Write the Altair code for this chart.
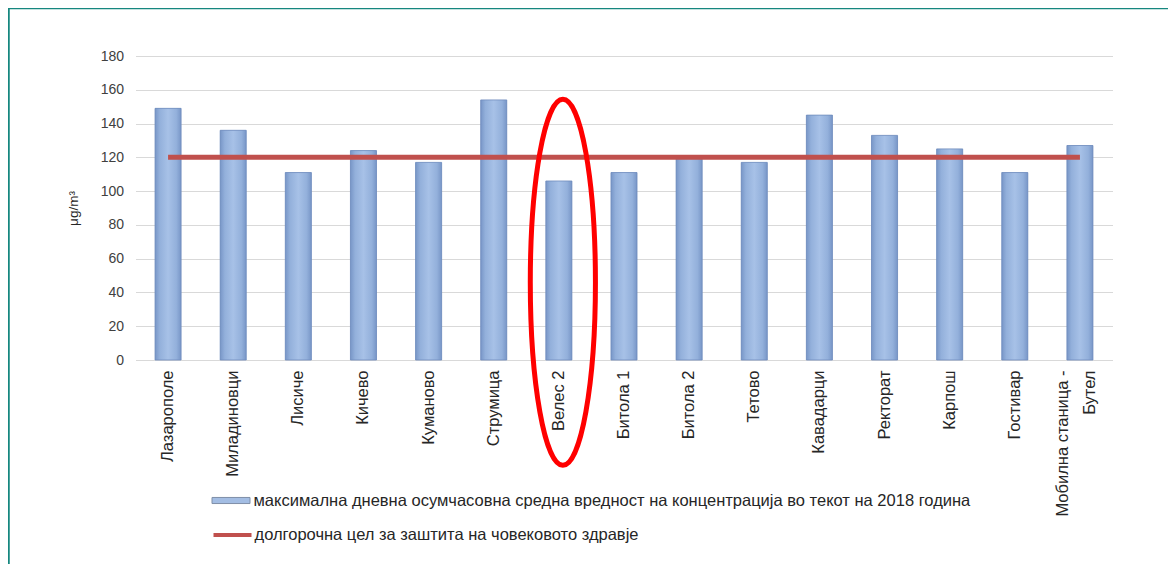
import altair as alt
import pandas as pd

stations = ["Лазарополе", "Миладиновци", "Лисиче", "Кичево", "Куманово", "Струмица",
            "Велес 2", "Битола 1", "Битола 2", "Тетово", "Кавадарци", "Ректорат",
            "Карпош", "Гостивар", "Мобилна станица - Бутел"]
max_8h = [149, 136, 111, 124, 117, 154, 106, 111, 120, 117, 145, 133, 125, 111, 127]
target = [120, 120, 120, 120, 120, 120, 120, 120, 120, 120, 120, 120, 120, 120, 120]
y_ticks = [0, 20, 40, 60, 80, 100, 120, 140, 160, 180]
bar_label = "максимална дневна осумчасовна средна вредност  на концентрација во текот на 2018 година"
line_label = "долгорочна цел за заштита на човековото здравје"
highlight = ["Велес 2"]
highlight_y = [46]

df = pd.DataFrame({"station": stations, "value": max_8h, "target": target})
df_hl = pd.DataFrame({"station": highlight, "y": highlight_y})

FONT = "Liberation Sans"
W, H = 977, 304
LONG = "Мобилна станица - Бутел"

xaxis = alt.Axis(labelAngle=-90, labelFontSize=16.5, labelFont=FONT,
                 labelColor="#262626", labelPadding=10, ticks=False,
                 domainColor="#D9D9D9", domainWidth=1, grid=False,
                 labelLineHeight=27, labelLimit=300, labelOverlap=False,
                 labelOffset={"condition": {"test": f"datum.label == '{LONG}'", "value": -17},
                              "value": 0},
                 labelExpr=f"datum.label == '{LONG}' ? ['Мобилна станица -', 'Бутел'] : datum.label")
xenc = alt.X("station:N", sort=stations, title=None,
             scale=alt.Scale(paddingInner=0.6, paddingOuter=0.3), axis=xaxis)
yscale = alt.Scale(domain=[0, 180], nice=False)
yaxis = alt.Axis(values=y_ticks, labelFontSize=14, labelFont=FONT, labelColor="#404040",
                 labelPadding=12, ticks=False, domain=False, gridColor="#D9D9D9",
                 gridWidth=1, labelOverlap=False, title="μg/m³", titleFont=FONT,
                 titleFontSize=13.5, titleFontWeight="normal", titleColor="#262626",
                 titlePadding=20)

base = alt.Chart(df)

bars_legend = base.mark_bar().encode(
    x=xenc,
    y=alt.Y("value:Q", scale=yscale, axis=yaxis),
    color=alt.Color("lbl:N", scale=alt.Scale(range=["#A3BDE3"]),
                    legend=alt.Legend(title=None, orient="none", legendX=76, legendY=425,
                                      symbolType="M -1 -0.16 L 1 -0.16 L 1 0.16 L -1 0.16 Z",
                                      symbolSize=1444, symbolStrokeColor="#7F8FA8",
                                      symbolStrokeWidth=1, labelFont=FONT, labelFontSize=16.5,
                                      labelColor="#262626", labelLimit=1000, labelOffset=3,
                                      padding=0)),
).transform_calculate(lbl=f"'{bar_label}'")

grad = alt.Gradient(gradient="linear", x1=0, x2=1, y1=0, y2=0,
                    stops=[alt.GradientStop(offset=0, color="#7896C7"),
                           alt.GradientStop(offset=0.18, color="#93B0DB"),
                           alt.GradientStop(offset=0.5, color="#A7C1E7"),
                           alt.GradientStop(offset=0.82, color="#93B0DB"),
                           alt.GradientStop(offset=1, color="#7896C7")])
bars_grad = base.mark_bar(fill=grad, stroke="#6F8CBD", strokeWidth=0.8).encode(
    x=alt.X("station:N", sort=stations, title=None,
            scale=alt.Scale(paddingInner=0.6, paddingOuter=0.3), axis=xaxis),
    y=alt.Y("value:Q", scale=yscale, axis=yaxis),
)

line = base.mark_line(strokeWidth=5).encode(
    x=alt.X("station:N", sort=stations, title=None,
            scale=alt.Scale(paddingInner=0.6, paddingOuter=0.3), axis=xaxis),
    y=alt.Y("target:Q", scale=yscale, axis=yaxis),
    stroke=alt.Stroke("lbl2:N", scale=alt.Scale(range=["#C0504D"]),
                      legend=alt.Legend(title=None, orient="none", legendX=76, legendY=458,
                                        symbolType="stroke", symbolSize=1444,
                                        symbolStrokeWidth=4, labelFont=FONT, labelFontSize=16.5,
                                        labelColor="#262626", labelLimit=1000, labelOffset=1,
                                        padding=0)),
).transform_calculate(lbl2=f"'{line_label}'")

k = 0.5523
a = 0.178
ell = (f"M 0 -1 C {k*a:.4f} -1 {a} {-k:.4f} {a} 0 C {a} {k:.4f} {k*a:.4f} 1 0 1 "
       f"C {-k*a:.4f} 1 {-a} {k:.4f} {-a} 0 C {-a} {-k:.4f} {-k*a:.4f} -1 0 -1 Z")
ellipse = alt.Chart(df_hl).mark_point(shape=ell, size=133956, filled=False,
                                      stroke="#FF0000", strokeWidth=5, opacity=1,
                                      xOffset=4).encode(
    x=alt.X("station:N", sort=stations, title=None,
            scale=alt.Scale(paddingInner=0.6, paddingOuter=0.3), axis=xaxis),
    y=alt.Y("y:Q", scale=yscale, axis=yaxis),
)

frame_top = alt.Chart(df_hl).mark_rule(color="#16877F", strokeWidth=2.5).encode(
    x=alt.value(-128), x2=alt.value(1100), y=alt.value(-48))
frame_left = alt.Chart(df_hl).mark_rule(color="#16877F", strokeWidth=2.5).encode(
    x=alt.value(-127), y=alt.value(-49), y2=alt.value(520))

chart = alt.layer(bars_legend, bars_grad, line, ellipse, frame_top, frame_left).properties(
    width=W, height=H,
    autosize=alt.AutoSizeParams(type="none"),
    padding={"left": 127.5, "top": 48, "right": 55.5, "bottom": 204},
    background="white",
).configure_view(stroke=None)

chart.save("out.html", embed_options={"renderer": "svg", "actions": False})
